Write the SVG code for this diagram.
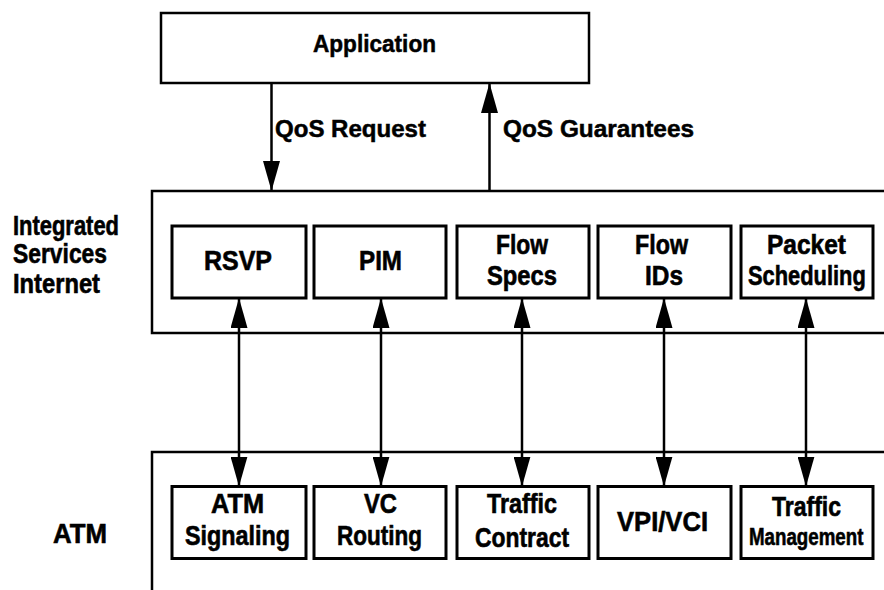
<svg xmlns="http://www.w3.org/2000/svg" width="884" height="590" viewBox="0 0 884 590">
<style>
.frame{fill:none;stroke:#000;stroke-width:2.5}
.box{fill:#fff;stroke:#000;stroke-width:3}
.lbl{font-family:"Liberation Sans",Arial,sans-serif;font-weight:bold;font-size:27px;fill:#000;stroke:#000;stroke-width:0.6}
.sm{font-family:"Liberation Sans",Arial,sans-serif;font-weight:bold;font-size:24px;fill:#000;stroke:#000;stroke-width:0.5}
.conn{stroke:#000;stroke-width:2.5;fill:none}
</style>
<defs>
<marker id="ah" viewBox="0 0 30 17" refX="30" refY="8.5" markerWidth="30" markerHeight="17" markerUnits="userSpaceOnUse" orient="auto-start-reverse">
<path d="M0,0 L30,8.5 L0,17 z" fill="#000"/>
</marker>
</defs>
<rect width="884" height="590" fill="#fff"/>

<g id="layer-labels">
<text class="lbl" x="13" y="235" textLength="106" lengthAdjust="spacingAndGlyphs">Integrated</text>
<text class="lbl" x="13" y="263" textLength="94" lengthAdjust="spacingAndGlyphs">Services</text>
<text class="lbl" x="13" y="293" textLength="87" lengthAdjust="spacingAndGlyphs">Internet</text>
<text class="lbl" x="53" y="543" textLength="54" lengthAdjust="spacingAndGlyphs">ATM</text>
</g>

<g id="application">
<rect class="frame" x="161" y="13" width="428" height="70"/>
<text class="sm" x="313" y="52" textLength="123" lengthAdjust="spacingAndGlyphs">Application</text>
</g>

<g id="isi-layer">
<path class="frame" d="M890 191 H152 V333 H890"/>
</g>
<g id="atm-layer">
<path class="frame" d="M890 452 H152 V595"/>
</g>

<g id="rsvp">
<rect class="box" x="172" y="226" width="134" height="72"/>
<text class="lbl" x="204" y="270" textLength="68" lengthAdjust="spacingAndGlyphs">RSVP</text>
</g>
<g id="pim">
<rect class="box" x="314" y="226" width="132" height="72"/>
<text class="lbl" x="359" y="270" textLength="43" lengthAdjust="spacingAndGlyphs">PIM</text>
</g>
<g id="flow-specs">
<rect class="box" x="457" y="226" width="132" height="72"/>
<text class="lbl" x="496" y="254" textLength="52" lengthAdjust="spacingAndGlyphs">Flow</text>
<text class="lbl" x="487" y="285" textLength="70" lengthAdjust="spacingAndGlyphs">Specs</text>
</g>
<g id="flow-ids">
<rect class="box" x="598" y="226" width="133" height="72"/>
<text class="lbl" x="635" y="254" textLength="53" lengthAdjust="spacingAndGlyphs">Flow</text>
<text class="lbl" x="645" y="285" textLength="38" lengthAdjust="spacingAndGlyphs">IDs</text>
</g>
<g id="packet-scheduling">
<rect class="box" x="741" y="226" width="132" height="72"/>
<text class="lbl" x="767" y="254" textLength="79" lengthAdjust="spacingAndGlyphs">Packet</text>
<text class="lbl" transform="translate(748 285) scale(0.81 1)" x="0" y="0">Scheduling</text>
</g>

<g id="atm-signaling">
<rect class="box" x="172" y="486.5" width="134" height="72"/>
<text class="lbl" x="211" y="513" textLength="53" lengthAdjust="spacingAndGlyphs">ATM</text>
<text class="lbl" x="185" y="545" textLength="105" lengthAdjust="spacingAndGlyphs">Signaling</text>
</g>
<g id="vc-routing">
<rect class="box" x="314" y="486.5" width="132" height="72"/>
<text class="lbl" x="364" y="513" textLength="33" lengthAdjust="spacingAndGlyphs">VC</text>
<text class="lbl" x="337" y="545" textLength="85" lengthAdjust="spacingAndGlyphs">Routing</text>
</g>
<g id="traffic-contract">
<rect class="box" x="457" y="486.5" width="132" height="72"/>
<text class="lbl" x="487" y="513" textLength="70" lengthAdjust="spacingAndGlyphs">Traffic</text>
<text class="lbl" x="475" y="547" textLength="94" lengthAdjust="spacingAndGlyphs">Contract</text>
</g>
<g id="vpi-vci">
<rect class="box" x="598" y="486.5" width="133" height="72"/>
<text class="lbl" x="617" y="531" textLength="91" lengthAdjust="spacingAndGlyphs">VPI/VCI</text>
</g>
<g id="traffic-management">
<rect class="box" x="741" y="486.5" width="132" height="72"/>
<text class="lbl" x="772" y="516" textLength="69" lengthAdjust="spacingAndGlyphs">Traffic</text>
<text class="lbl" style="font-size:24px" transform="translate(749 545) scale(0.78 1)" x="0" y="0">Management</text>
</g>

<g id="connectors">
<line class="conn" x1="271.5" y1="83" x2="271.5" y2="191" marker-end="url(#ah)"/>
<line class="conn" x1="489.5" y1="191" x2="489.5" y2="83" marker-end="url(#ah)"/>
<text class="sm" x="275" y="137" textLength="151" lengthAdjust="spacingAndGlyphs">QoS Request</text>
<text class="sm" x="503" y="137" textLength="191" lengthAdjust="spacingAndGlyphs">QoS Guarantees</text>
<line class="conn" x1="239" y1="298" x2="239" y2="486.5" marker-start="url(#ah)" marker-end="url(#ah)"/>
<line class="conn" x1="381" y1="298" x2="381" y2="486.5" marker-start="url(#ah)" marker-end="url(#ah)"/>
<line class="conn" x1="522" y1="298" x2="522" y2="486.5" marker-start="url(#ah)" marker-end="url(#ah)"/>
<line class="conn" x1="664" y1="298" x2="664" y2="486.5" marker-start="url(#ah)" marker-end="url(#ah)"/>
<line class="conn" x1="806" y1="298" x2="806" y2="486.5" marker-start="url(#ah)" marker-end="url(#ah)"/>
</g>
</svg>
